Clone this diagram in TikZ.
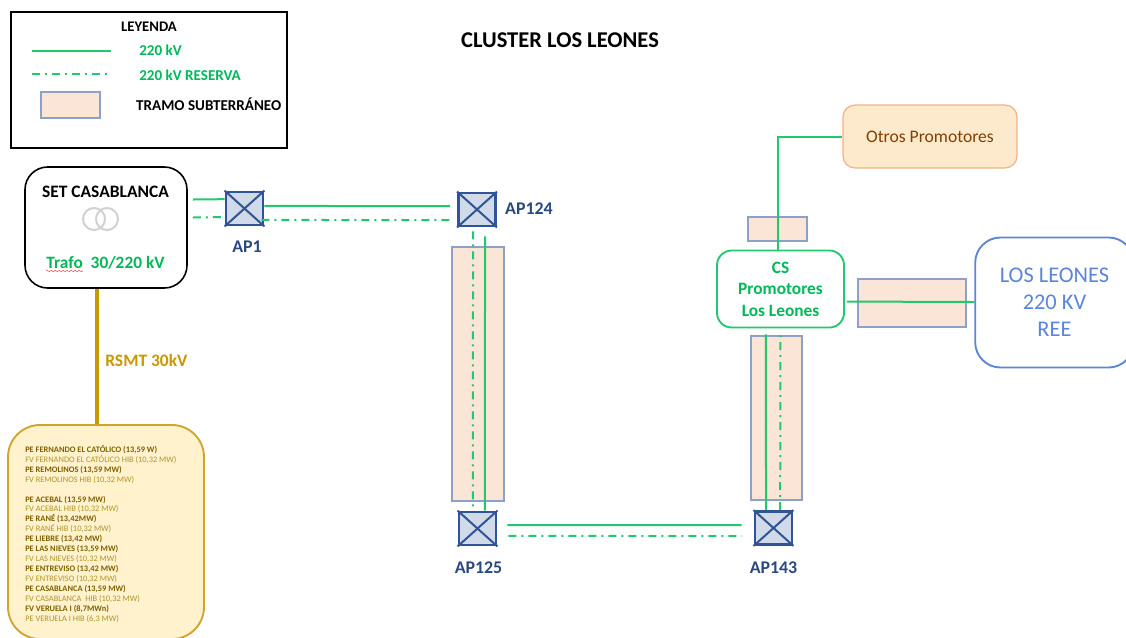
\documentclass[tikz,border=0pt]{standalone}
\usepackage{fontspec}
\setmainfont{Carlito}
\usetikzlibrary{decorations.pathmorphing}

\definecolor{verde}{HTML}{22C86E}
\definecolor{verdetxt}{HTML}{00B858}
\definecolor{azulap}{HTML}{2F5597}
\definecolor{azulree}{HTML}{5B85D6}
\definecolor{oro}{HTML}{CFA52E}
\definecolor{cable}{HTML}{C99700}
\definecolor{orotxt}{HTML}{7F6000}
\definecolor{oroclaro}{HTML}{B0932F}
\definecolor{rosado}{HTML}{FBE5D6}
\definecolor{crema}{HTML}{FFF2CC}
\definecolor{naranja}{HTML}{F4B183}
\definecolor{naranjaclaro}{HTML}{FDE9CB}

\tikzset{
  linea/.style={verde, line width=1.5pt},
  reserva/.style={verde, line width=1.5pt, dash pattern=on 6pt off 3.75pt on 1.5pt off 3.75pt},
  tramo/.style={draw=azulap!55, fill=rosado, line width=0.9pt},
  apoyo/.style={draw=azulap, fill=azulap!22!white, line width=2.2pt, inner sep=0pt,
    minimum width=27.75pt, minimum height=24.75pt},
  aplabel/.style={text=azulap!85!black, font=\bfseries\fontsize{13.4}{15}\selectfont}
}

\newcommand{\pe}[1]{{\bfseries\color{orotxt}#1}\\}
\newcommand{\fv}[1]{{\color{oroclaro}#1}\\}

\begin{document}
\begin{tikzpicture}[x=0.75pt, y=-0.75pt]
\useasboundingbox (0, 0) rectangle (1126, 637);

% leyenda
\node[draw=black, line width=1.3pt, minimum width=207pt, minimum height=102pt, inner sep=0pt]
  (leyenda) at (149, 80) {};
\node[font=\bfseries\fontsize{11}{13}\selectfont] (leytit) at (149, 27) {LEYENDA};
\coordinate (leya) at (32, 51);
\coordinate (leyb) at (111, 51);
\coordinate (leyc) at (32, 74);
\coordinate (leyd) at (111, 74);
\draw[linea] (leya) -- (leyb);
\draw[reserva] (leyc) -- (leyd);
\draw[tramo] (41, 92) rectangle (100, 118);
\node[anchor=west, text=verdetxt, font=\bfseries\fontsize{11.3}{13}\selectfont] (ley220) at (134.6, 50) {220 kV};
\node[anchor=west, text=verdetxt, font=\bfseries\fontsize{11.3}{13}\selectfont] (leyres) at (134.6, 75) {220 kV RESERVA};
\node[anchor=west, font=\bfseries\fontsize{11.3}{13}\selectfont] (leytra) at (131.5, 104) {TRAMO SUBTERRÁNEO};

\node[font=\bfseries\fontsize{16.9}{20}\selectfont] (titulo) at (560, 40) {CLUSTER LOS LEONES};

% tramos subterraneos
\draw[tramo] (452, 247) rectangle (504, 501);
\draw[tramo] (751, 336) rectangle (802, 500);
\draw[tramo] (748, 217) rectangle (807, 241);
\draw[tramo] (858, 279) rectangle (966, 327);

% subestaciones
\node[draw=black, line width=1.2pt, rounded corners=17pt, minimum width=121.5pt, minimum height=90.75pt, inner sep=0pt]
  (set) at (106, 227.5) {};
\node[font=\bfseries\fontsize{13.1}{15}\selectfont] (settit) at (105.5, 192) {SET CASABLANCA};
\draw[black!18, line width=1.5pt] (94, 219) circle (11);
\draw[black!18, line width=1.5pt] (107, 219) circle (11);
\node[text=verdetxt, font=\bfseries\fontsize{13}{15}\selectfont] (trafo) at (105.5, 262.5) {Trafo\ \ 30/220 kV};
\coordinate (rojoa) at (46, 271);
\coordinate (rojob) at (83, 271);
\draw[red!70, line width=0.4pt, decorate, decoration={snake, amplitude=0.5pt, segment length=3pt}] (rojoa) -- (rojob);

\node[draw=oro, fill=crema, line width=1.4pt, rounded corners=24pt,
  minimum width=147pt, minimum height=160.5pt, inner sep=0pt] (parques) at (106, 532) {};
\node[anchor=north west, align=left, inner sep=0pt, font=\fontsize{6.3}{7.45}\selectfont] (lista) at (25, 445) {%
  \pe{PE FERNANDO EL CATÓLICO (13,59 W)}
  \fv{FV FERNANDO EL CATÓLICO HIB (10,32 MW)}
  \pe{PE REMOLINOS (13,59 MW)}
  \fv{FV REMOLINOS HIB (10,32 MW)}
  \mbox{}\\
  \pe{PE ACEBAL (13,59 MW)}
  \fv{FV ACEBAL HIB (10,32 MW)}
  \pe{PE RANÉ (13,42MW)}
  \fv{FV RANÉ HIB (10,32 MW)}
  \pe{PE LIEBRE (13,42 MW)}
  \pe{PE LAS NIEVES (13,59 MW)}
  \fv{FV LAS NIEVES (10,32 MW)}
  \pe{PE ENTREVISO (13,42 MW)}
  \fv{FV ENTREVISO (10,32 MW)}
  \pe{PE CASABLANCA (13,59 MW)}
  \fv{FV CASABLANCA\ \ HIB (10,32 MW)}
  \pe{FV VERUELA I (8,7MWn)}
  {\color{oroclaro}PE VERUELA I HIB (6,3 MW)}};

\node[draw=verde, line width=1.4pt, rounded corners=11pt, minimum width=95.25pt, minimum height=57.75pt,
  inner sep=0pt, text=verdetxt, align=center, font=\bfseries\fontsize{13}{16.2}\selectfont]
  (cs) at (780.5, 289) {CS\\Promotores\\Los Leones};
\node[draw=naranja, fill=naranjaclaro, line width=0.9pt, rounded corners=9pt, minimum width=130.5pt,
  minimum height=47.25pt, inner sep=0pt, text=orange!50!black, font=\fontsize{13.2}{15}\selectfont]
  (otros) at (930, 136.5) {Otros Promotores};
\node[draw=azulree, line width=1.4pt, rounded corners=19pt, minimum width=119pt, minimum height=97.5pt,
  inner sep=0pt, text=azulree, align=center, font=\fontsize{16.8}{20.25}\selectfont]
  (ree) at (1054.5, 302.5) {LOS LEONES\\220 KV\\REE};

% apoyos
\node[apoyo] (ap1) at (244.5, 208.5) {};
\node[apoyo] (ap124) at (477, 209.5) {};
\node[apoyo] (ap125) at (477.5, 528.5) {};
\node[apoyo] (ap143) at (773.5, 528) {};
\foreach \ap in {ap1, ap124, ap125, ap143} {
  \draw[azulap, line width=1.5pt] (\ap.north west) -- (\ap.south east);
  \draw[azulap, line width=1.5pt] (\ap.north east) -- (\ap.south west);
}
\node[aplabel] (ap1lab) at (247, 246.5) {AP1};
\node[aplabel, anchor=west] (ap124lab) at (500.5, 208.5) {AP124};
\node[aplabel] (ap125lab) at (478.5, 567.5) {AP125};
\node[aplabel] (ap143lab) at (773.5, 567.5) {AP143};

% lineas
\draw[linea] ([xshift=3.75pt, yshift=21pt]set.east) -- ([yshift=7pt]ap1.west);
\draw[reserva] ([xshift=3.75pt, yshift=7.5pt]set.east) -- ([yshift=-6.4pt]ap1.west);
\draw[linea] ([yshift=1.9pt]ap1.east) -- ([xshift=-5.25pt, yshift=2.6pt]ap124.west);
\draw[reserva] ([xshift=-2.25pt, yshift=-8.6pt]ap1.east) -- ([xshift=-5.25pt, yshift=-7.9pt]ap124.west);

\draw[reserva] ([xshift=-3pt, yshift=-3pt]ap124.south) -- ([xshift=-3.4pt]ap125.north);
\draw[linea] ([xshift=6pt, yshift=-6.75pt]ap124.south) -- ([xshift=5.6pt]ap125.north);

\draw[linea] ([xshift=7.5pt, yshift=2.6pt]ap125.east) -- ([xshift=-9pt, yshift=2.25pt]ap143.west);
\draw[reserva] ([xshift=8.25pt, yshift=-5.6pt]ap125.east) -- ([xshift=-9pt, yshift=-6pt]ap143.west);

\draw[linea] ([xshift=-5.6pt]ap143.north) -- ([xshift=-11pt, yshift=-4.5pt]cs.south);
\draw[reserva] ([xshift=5pt]ap143.north) -- ([yshift=-4.5pt]cs.south);

\draw[linea] ([xshift=-2pt]cs.north) |- (otros.west);
\draw[linea] ([xshift=1.5pt, yshift=-9.4pt]cs.east) -- (ree.west |- 0, 302);

% cable a parques
\draw[cable, line width=2.3pt] (parques.north -| 97, 0) -- (set.south -| 97, 0);
\node[text=cable, font=\bfseries\fontsize{13.1}{15}\selectfont, anchor=west] (rsmt) at (100.6, 360) {RSMT 30kV};

\end{tikzpicture}
\end{document}
